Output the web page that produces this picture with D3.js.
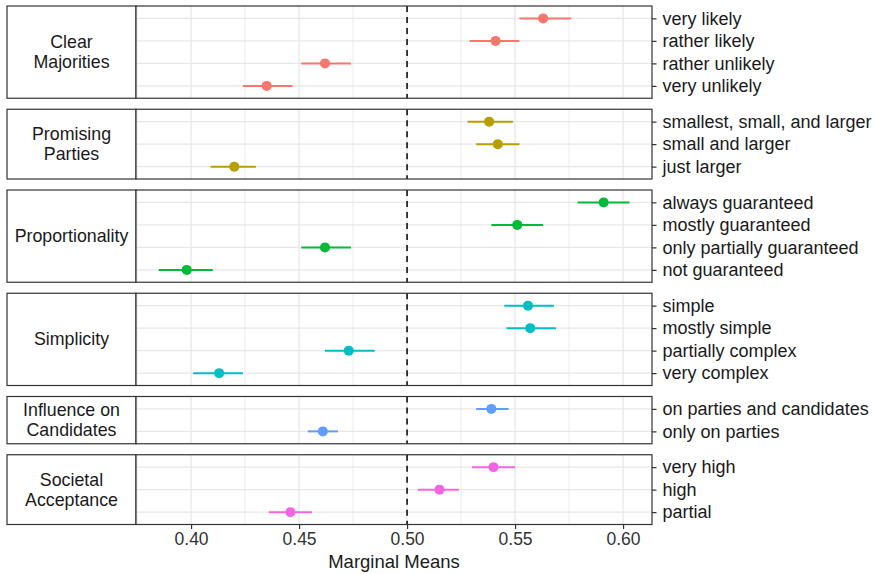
<!DOCTYPE html>
<html>
<head>
<meta charset="utf-8">
<script src="https://cdn.jsdelivr.net/npm/d3@7"></script>
<style>
  body { margin: 0; background: #fff; }
  text { font-family: "Liberation Sans", Arial, sans-serif; }
</style>
</head>
<body>
<div id="chart"></div>
<script>
// chart data
const attributes = ["Clear Majorities", "Promising Parties", "Proportionality", "Simplicity", "Influence on Candidates", "Societal Acceptance"];
const stripLabels = [["Clear", "Majorities"], ["Promising", "Parties"], ["Proportionality"], ["Simplicity"], ["Influence on", "Candidates"], ["Societal", "Acceptance"]];
const levels = [
  ["very likely", "rather likely", "rather unlikely", "very unlikely"],
  ["smallest, small, and larger", "small and larger", "just larger"],
  ["always guaranteed", "mostly guaranteed", "only partially guaranteed", "not guaranteed"],
  ["simple", "mostly simple", "partially complex", "very complex"],
  ["on parties and candidates", "only on parties"],
  ["very high", "high", "partial"]
];
const estimates = [
  [0.563, 0.541, 0.462, 0.435],
  [0.538, 0.542, 0.420],
  [0.591, 0.551, 0.462, 0.398],
  [0.556, 0.557, 0.473, 0.413],
  [0.539, 0.461],
  [0.540, 0.515, 0.446]
];
const lower = [
  [0.552, 0.529, 0.451, 0.424],
  [0.528, 0.532, 0.409],
  [0.579, 0.539, 0.451, 0.385],
  [0.545, 0.546, 0.462, 0.401],
  [0.532, 0.454],
  [0.530, 0.505, 0.436]
];
const upper = [
  [0.576, 0.552, 0.474, 0.447],
  [0.549, 0.552, 0.430],
  [0.603, 0.563, 0.474, 0.410],
  [0.568, 0.569, 0.485, 0.424],
  [0.547, 0.468],
  [0.550, 0.524, 0.456]
];
const colors = ["#F8766D", "#B79F00", "#00BA38", "#00BFC4", "#619CFF", "#F564E3"];
const xTicks = [0.40, 0.45, 0.50, 0.55, 0.60];
const xMinor = [0.375, 0.425, 0.475, 0.525, 0.575];
const reference = 0.5;

const width = 874;
const height = 574;
const stripLeft = 7;
const panelLeft = 136;
const panelRight = 652;
const top0 = 6;
const step = 22.5;
const pad = 0.55;
const gap = 11;

const svg = d3.select('#chart')
  .append('svg')
  .attr('width', width)
  .attr('height', height);

const x = d3.scaleLinear()
  .domain([0.3745, 0.6134])
  .range([panelLeft, panelRight]);

let yTop = top0;
let lastBottom = 0;

attributes.forEach((attr, gi) => {
  const n = levels[gi].length;
  const h = (n - 1 + 2 * pad) * step;
  const y = d3.scalePoint()
    .domain(levels[gi])
    .range([yTop, yTop + h])
    .padding(pad);

  const rows = levels[gi].map((lv, i) => ({
    level: lv, est: estimates[gi][i], lo: lower[gi][i], hi: upper[gi][i]
  }));

  const g = svg.append('g').attr('class', 'panel');

  // strip
  g.append('rect')
    .attr('x', stripLeft).attr('y', yTop)
    .attr('width', panelLeft - stripLeft).attr('height', h)
    .attr('fill', '#fff').attr('stroke', '#333').attr('stroke-width', 1.2);

  const lines = stripLabels[gi];
  const cy = yTop + h / 2;
  g.append('text')
    .attr('x', (stripLeft + panelLeft) / 2)
    .attr('text-anchor', 'middle')
    .attr('font-size', 17.8)
    .attr('fill', '#1a1a1a')
    .selectAll('tspan')
    .data(lines)
    .join('tspan')
      .attr('x', (stripLeft + panelLeft) / 2)
      .attr('y', (d, i) => cy + 6 + (i - (lines.length - 1) / 2) * 20)
      .text(d => d);

  // panel background + grid
  g.append('rect')
    .attr('x', panelLeft).attr('y', yTop)
    .attr('width', panelRight - panelLeft).attr('height', h)
    .attr('fill', '#fff');

  g.append('g')
    .selectAll('line')
    .data(xMinor.filter(v => x(v) > panelLeft && x(v) < panelRight))
    .join('line')
      .attr('x1', d => x(d)).attr('x2', d => x(d))
      .attr('y1', yTop).attr('y2', yTop + h)
      .attr('stroke', '#ededed').attr('stroke-width', 1);

  g.append('g')
    .selectAll('line')
    .data(xTicks)
    .join('line')
      .attr('x1', d => x(d)).attr('x2', d => x(d))
      .attr('y1', yTop).attr('y2', yTop + h)
      .attr('stroke', '#e8e8e8').attr('stroke-width', 1.3);

  g.append('g')
    .selectAll('line')
    .data(levels[gi])
    .join('line')
      .attr('x1', panelLeft).attr('x2', panelRight)
      .attr('y1', d => y(d)).attr('y2', d => y(d))
      .attr('stroke', '#e8e8e8').attr('stroke-width', 1.3);

  // reference line
  g.append('line')
    .attr('x1', x(reference)).attr('x2', x(reference))
    .attr('y1', yTop).attr('y2', yTop + h)
    .attr('stroke', '#111').attr('stroke-width', 1.6)
    .attr('stroke-dasharray', '6,5');

  // error bars
  g.append('g')
    .selectAll('line')
    .data(rows)
    .join('line')
      .attr('x1', d => x(d.lo)).attr('x2', d => x(d.hi))
      .attr('y1', d => y(d.level)).attr('y2', d => y(d.level))
      .attr('stroke', colors[gi]).attr('stroke-width', 2);

  g.append('g')
    .selectAll('circle')
    .data(rows)
    .join('circle')
      .attr('cx', d => x(d.est))
      .attr('cy', d => y(d.level))
      .attr('r', 5)
      .attr('fill', colors[gi]);

  // border
  g.append('rect')
    .attr('x', panelLeft).attr('y', yTop)
    .attr('width', panelRight - panelLeft).attr('height', h)
    .attr('fill', 'none').attr('stroke', '#333').attr('stroke-width', 1.2);

  // right axis labels
  const ax = g.append('g')
    .attr('transform', `translate(${panelRight},0)`)
    .call(d3.axisRight(y).tickSize(4.5).tickPadding(6));
  ax.select('.domain').remove();
  ax.selectAll('.tick line').attr('stroke', '#333').attr('stroke-width', 1.2);
  ax.selectAll('.tick text')
    .attr('font-size', 18)
    .attr('fill', '#1a1a1a')
    .attr('font-family', '"Liberation Sans", Arial, sans-serif');

  lastBottom = yTop + h;
  yTop += h + gap;
});

// bottom axis
const xAxis = svg.append('g')
  .attr('transform', `translate(0,${lastBottom})`)
  .call(d3.axisBottom(x).tickValues(xTicks).tickFormat(d3.format('.2f')).tickSize(4.5).tickPadding(4));
xAxis.select('.domain').remove();
xAxis.selectAll('.tick line').attr('stroke', '#333').attr('stroke-width', 1.2);
xAxis.selectAll('.tick text')
  .attr('font-size', 17.5)
  .attr('fill', '#333')
  .attr('font-family', '"Liberation Sans", Arial, sans-serif');

svg.append('text')
  .attr('x', (panelLeft + panelRight) / 2)
  .attr('y', 568)
  .attr('text-anchor', 'middle')
  .attr('font-size', 18.5)
  .attr('fill', '#1a1a1a')
  .text('Marginal Means');
</script>
</body>
</html>
